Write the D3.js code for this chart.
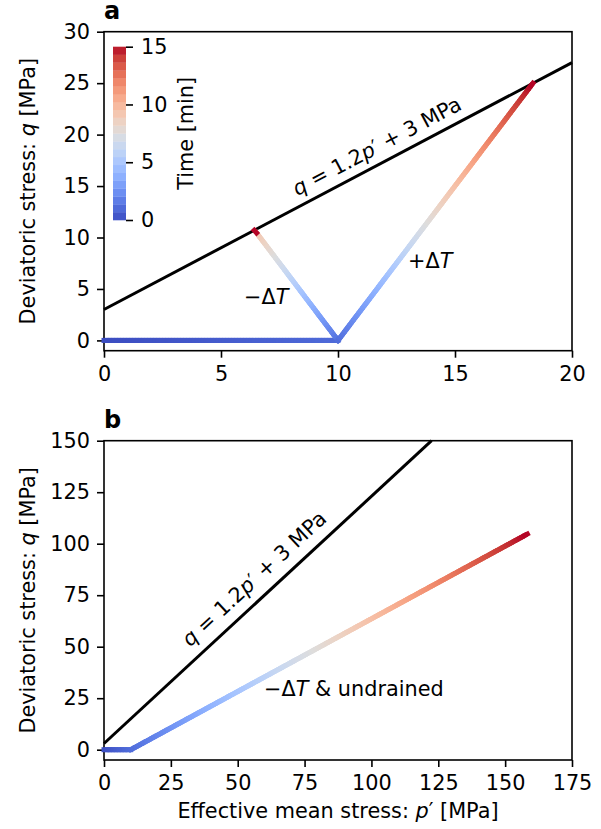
<!DOCTYPE html>
<html>
<head>
<meta charset="UTF-8">
<script src="https://cdn.jsdelivr.net/npm/d3@7"></script>
<style>
  body { margin: 0; background: #fff; }
  text { font-family: "DejaVu Sans", sans-serif; fill: #000; }
</style>
</head>
<body>
<svg width="601" height="829"></svg>
<script>
// ---- data ----
var xTicksA = [0, 5, 10, 15, 20];
var yTicksA = [0, 5, 10, 15, 20, 25, 30];
var xTicksB = [0, 25, 50, 75, 100, 125, 150, 175];
var yTicksB = [0, 25, 50, 75, 100, 125, 150];
var cbTicks = [0, 5, 10, 15];
var tMax = 15;

// failure line q = 1.2p' + 3
var failA_p = [0, 20],    failA_q = [3, 27];
var failB_p = [0, 122.5], failB_q = [3, 150];

// panel a stress paths (p', q, time in min)
var loadA_p = [0, 10],          loadA_q = [0, 0],           loadA_t = [0, 1];
var heatA_p = [10, 18.33],      heatA_q = [0, 25],          heatA_t = [1, 15];
var coolA_p = [10, 6.52, 6.42], coolA_q = [0, 10.45, 10.7], coolA_t = [1, 9, 15];

// panel b stress paths
var loadB_p = [0, 10],     loadB_q = [0, 0],      loadB_t = [0, 1];
var undrB_p = [10, 158.3], undrB_q = [0, 104.7],  undrB_t = [1, 15];

// coolwarm colormap stops
var cwStops = [
  [59,76,192],[68,90,204],[77,104,215],[87,117,225],[98,130,234],[108,142,241],
  [119,154,247],[130,165,251],[141,176,254],[152,185,255],[163,194,255],[174,201,253],
  [184,208,249],[194,213,244],[204,217,238],[213,219,230],[221,221,221],[229,216,209],
  [236,211,197],[241,204,185],[245,196,173],[247,187,160],[247,177,148],[247,166,135],
  [244,154,123],[241,141,111],[236,127,99],[229,112,88],[222,96,77],[213,80,66],
  [203,62,56],[192,40,47],[180,4,38]
];
var coolwarm = d3.piecewise(d3.interpolateRgb,
  cwStops.map(function(c){ return d3.rgb(c[0], c[1], c[2]); }));
var color = function(t){ return coolwarm(Math.max(0, Math.min(1, t / tMax))); };

var FS = 20.8;
var svg = d3.select("svg");
var left = 104, right = 572;

function makePanel(top, bottom, xDom, yDom, xTicks, yTicks, letter, xlabel) {
  var g = svg.append("g");
  var x = d3.scaleLinear().domain(xDom).range([left, right]);
  var y = d3.scaleLinear().domain(yDom).range([bottom, top]);

  var ax = g.append("g").attr("transform", "translate(0," + bottom + ")")
    .call(d3.axisBottom(x).tickValues(xTicks).tickSize(7).tickPadding(8.5).tickFormat(d3.format("d")));
  var ay = g.append("g").attr("transform", "translate(" + left + ",0)")
    .call(d3.axisLeft(y).tickValues(yTicks).tickSize(7).tickPadding(7).tickFormat(d3.format("d")));
  [ax, ay].forEach(function(a){
    a.select(".domain").remove();
    a.selectAll(".tick line").attr("stroke", "#000").attr("stroke-width", 1.6);
    a.selectAll(".tick text").attr("font-size", FS).attr("font-family", "DejaVu Sans").attr("fill", "#000");
  });

  g.append("rect").attr("x", left).attr("y", top)
    .attr("width", right - left).attr("height", bottom - top)
    .attr("fill", "none").attr("stroke", "#000").attr("stroke-width", 1.6);

  g.append("text").attr("x", left).attr("y", top - 13)
    .attr("font-size", 24).attr("font-weight", "bold").text(letter);

  var yl = g.append("text")
    .attr("transform", "translate(35," + ((top + bottom) / 2) + ") rotate(-90)")
    .attr("text-anchor", "middle").attr("font-size", FS);
  yl.append("tspan").text("Deviatoric stress: ");
  yl.append("tspan").attr("font-style", "italic").text("q");
  yl.append("tspan").text(" [MPa]");

  if (xlabel) {
    var xl = g.append("text").attr("x", (left + right) / 2).attr("y", 818)
      .attr("text-anchor", "middle").attr("font-size", FS);
    xl.append("tspan").text("Effective mean stress: ");
    xl.append("tspan").attr("font-style", "italic").text("p");
    xl.append("tspan").text("\u2032 [MPa]");
  }
  return {g: g, x: x, y: y};
}

function blackLine(P, ps, qs) {
  P.g.append("line")
    .attr("x1", P.x(ps[0])).attr("y1", P.y(qs[0]))
    .attr("x2", P.x(ps[1])).attr("y2", P.y(qs[1]))
    .attr("stroke", "#000").attr("stroke-width", 3);
}

// each small segment coloured by the time at its end
function colorPath(P, ps, qs, ts) {
  var segs = [];
  for (var i = 0; i < ps.length - 1; i++) {
    var x0 = P.x(ps[i]), y0 = P.y(qs[i]), x1 = P.x(ps[i+1]), y1 = P.y(qs[i+1]);
    var len = Math.hypot(x1 - x0, y1 - y0);
    var n = Math.max(1, Math.round(len / 3));
    for (var k = 0; k < n; k++) {
      var a = k / n, b = (k + 1) / n;
      segs.push({
        x1: x0 + (x1 - x0) * a, y1: y0 + (y1 - y0) * a,
        x2: x0 + (x1 - x0) * b, y2: y0 + (y1 - y0) * b,
        t: ts[i] + (ts[i+1] - ts[i]) * b
      });
    }
  }
  P.g.append("g").selectAll("line").data(segs).enter().append("line")
    .attr("x1", function(d){ return d.x1; }).attr("y1", function(d){ return d.y1; })
    .attr("x2", function(d){ return d.x2; }).attr("y2", function(d){ return d.y2; })
    .attr("stroke", function(d){ return color(d.t); })
    .attr("stroke-width", 5).attr("stroke-linecap", "square");
}

function lineLabel(P, p0, ps, qs, off) {
  var ang = Math.atan2(P.y(qs[0]) - P.y(qs[1]), P.x(ps[1]) - P.x(ps[0])) * 180 / Math.PI;
  var q0 = qs[0] + (qs[1] - qs[0]) * (p0 - ps[0]) / (ps[1] - ps[0]);
  var t = P.g.append("text")
    .attr("transform", "translate(" + P.x(p0) + "," + P.y(q0) + ") rotate(" + (-ang) + ")")
    .attr("text-anchor", "middle").attr("dy", -off).attr("font-size", FS);
  t.append("tspan").attr("font-style", "italic").text("q");
  t.append("tspan").text(" = 1.2");
  t.append("tspan").attr("font-style", "italic").text("p");
  t.append("tspan").text("\u2032 + 3 MPa");
}

function deltaT(P, xPx, yPx, sign, extra) {
  var t = P.g.append("text").attr("x", xPx).attr("y", yPx).attr("font-size", FS);
  t.append("tspan").text(sign + "\u0394");
  t.append("tspan").attr("font-style", "italic").text("T");
  if (extra) t.append("tspan").text(extra);
}

// ---- panel a ----
var A = makePanel(31.7, 350.7, [0, 20], [-1, 30], xTicksA, yTicksA, "a", false);
blackLine(A, failA_p, failA_q);
colorPath(A, loadA_p, loadA_q, loadA_t);
colorPath(A, coolA_p, coolA_q, coolA_t);
colorPath(A, heatA_p, heatA_q, heatA_t);
lineLabel(A, 12, failA_p, failA_q, 10);
deltaT(A, 244, 304, "\u2212");
deltaT(A, 408, 268, "+");

// colorbar
var cb = d3.scaleLinear().domain([0, tMax]).range([220, 46.7]);
var nb = 22, bw = tMax / nb;
A.g.append("g").selectAll("rect").data(d3.range(nb)).enter().append("rect")
  .attr("x", 113).attr("width", 13)
  .attr("y", function(i){ return cb((i + 1) * bw); })
  .attr("height", function(i){ return cb(i * bw) - cb((i + 1) * bw) + 0.3; })
  .attr("fill", function(i){ return color((i + 0.5) * bw); });
var cbAx = A.g.append("g").attr("transform", "translate(126,0)")
  .call(d3.axisRight(cb).tickValues(cbTicks).tickSize(7).tickPadding(8));
cbAx.select(".domain").remove();
cbAx.selectAll(".tick line").attr("stroke", "#000").attr("stroke-width", 1.6);
cbAx.selectAll(".tick text").attr("font-size", FS).attr("font-family", "DejaVu Sans").attr("fill", "#000");
A.g.append("text").attr("transform", "translate(193," + cb(tMax / 2) + ") rotate(-90)")
  .attr("text-anchor", "middle").attr("font-size", FS).text("Time [min]");

// ---- panel b ----
var B = makePanel(440.7, 760, [0, 175], [-5, 150], xTicksB, yTicksB, "b", true);
blackLine(B, failB_p, failB_q);
colorPath(B, loadB_p, loadB_q, loadB_t);
colorPath(B, undrB_p, undrB_q, undrB_t);
lineLabel(B, 61, failB_p, failB_q, 12);
deltaT(B, 264, 696, "\u2212", " & undrained");
</script>
</body>
</html>
